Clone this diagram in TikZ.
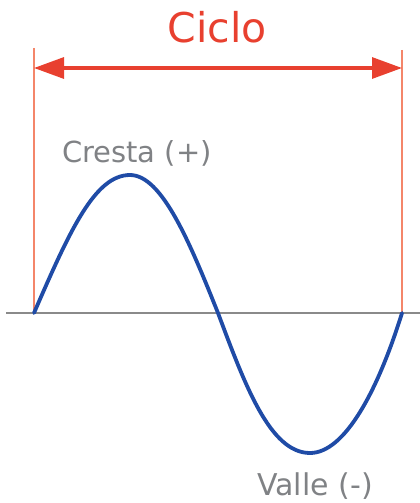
\documentclass[tikz,border=0pt]{standalone}
\usepackage{fontspec}
\setmainfont{DejaVu Sans}
\usetikzlibrary{arrows.meta}
\definecolor{cyred}{HTML}{E8402F}
\definecolor{cyline}{HTML}{F4866A}
\definecolor{wave}{HTML}{1F4BA6}
\definecolor{txtgray}{HTML}{808285}
\definecolor{axisgray}{HTML}{8A8A8A}
\tikzset{
  guide/.style={draw=cyline, line width=1.6pt},
  dimarrow/.style={draw=cyred, line width=3.2pt, {Triangle[length=30pt,width=21pt]}-{Triangle[length=30pt,width=21pt]}},
  label/.style={inner sep=0pt, anchor=base, text=txtgray, font=\fontsize{29}{29}\selectfont},
}
\begin{document}
\begin{tikzpicture}[x=1pt,y=-1pt]
\useasboundingbox (0,0) rectangle (420,503);
\coordinate (LT) at (34,48);
\coordinate (LB) at (34,313);
\coordinate (RT) at (402,50);
\coordinate (RB) at (402,313);
\coordinate (AL) at (34,68);
\coordinate (AR) at (402,68);
\coordinate (X0) at (6,313);
\coordinate (X1) at (420,313);
\coordinate (PK) at (130,175);
\coordinate (Z1) at (218,313);
\coordinate (TR) at (310,453);
% axis
\draw[draw=axisgray, line width=1.8pt] (X0) -- (X1);
% guides
\draw[guide] (LT) -- (LB);
\draw[guide] (RT) -- (RB);
% dimension arrow
\draw[dimarrow] (AL) -- (AR);
\node[inner sep=0pt, anchor=base, text=cyred, font=\fontsize{41}{41}\selectfont] (ciclo) at (217,43) {Ciclo};
% wave
\draw[draw=wave, line width=3.8pt, line cap=round, line join=round]
  (LB) .. controls (70,230) and (95,175) .. (PK)
       .. controls (162,175) and (190,243) .. (Z1)
       .. controls (245,385) and (270,453) .. (TR)
       .. controls (345,453) and (378,390) .. (RB);
\node[label] (cresta) at (137,162) {Cresta (+)};
\node[label, font=\fontsize{30}{30}\selectfont] (valle) at (315,495) {Valle (-)};
\end{tikzpicture}
\end{document}
